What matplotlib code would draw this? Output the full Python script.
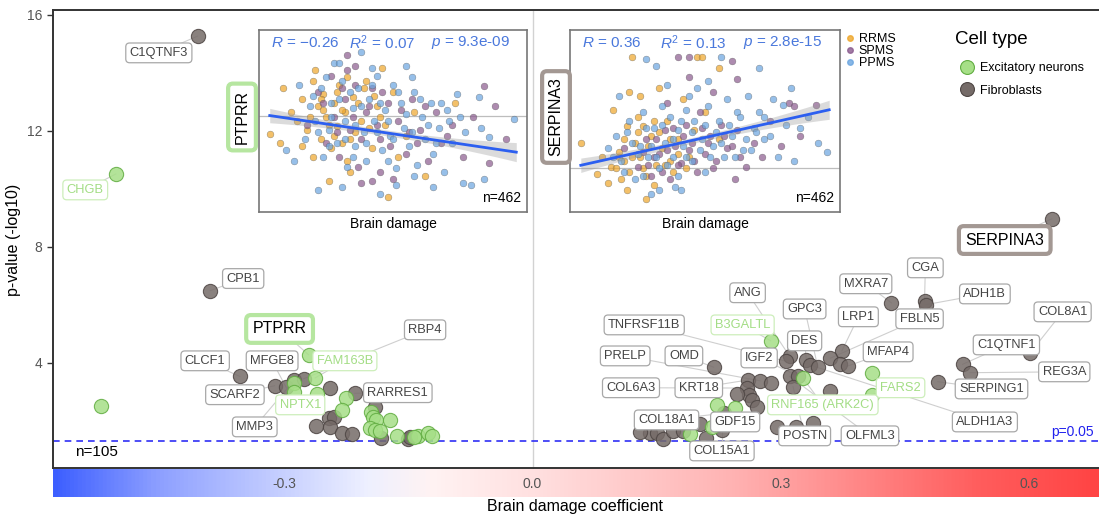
import numpy as np
import matplotlib
matplotlib.use("Agg")
import matplotlib.pyplot as plt
from matplotlib.colors import LinearSegmentedColormap
from matplotlib.lines import Line2D

plt.rcParams['font.family'] = ['Liberation Sans', 'DejaVu Sans']
plt.rcParams['mathtext.fontset'] = 'custom'
plt.rcParams['mathtext.rm'] = 'Liberation Sans'
plt.rcParams['mathtext.it'] = 'Liberation Sans:italic'

# ---------------- DATA ----------------
# main volcano-like panel: brain damage coefficient vs p-value (-log10)
fib_coef = [-0.405, -0.390, -0.354, -0.312, -0.298, -0.288, -0.277, -0.245, -0.215, -0.262,
            -0.246, -0.240, -0.245, -0.230, -0.218, -0.191, -0.183, -0.151, -0.148,
            0.628, 0.434, 0.474, 0.476, 0.602, 0.520, 0.529, 0.490, 0.374, 0.360,
            0.372, 0.382, 0.311, 0.307, 0.331, 0.335, 0.345, 0.311, 0.321, 0.315,
            0.360, 0.219, 0.261, 0.275, 0.288, 0.259, 0.262, 0.247, 0.265, 0.271,
            0.231, 0.235, 0.223, 0.229, 0.210, 0.142, 0.150, 0.158, 0.170, 0.182,
            0.295, 0.319, 0.339, 0.130, 0.202]
fib_pval = [15.27, 6.48, 3.52, 3.20, 3.14, 3.40, 3.44, 3.12, 2.94, 1.82,
            2.08, 2.12, 1.77, 1.58, 1.53, 2.48, 1.39, 1.36, 1.44,
            8.96, 6.06, 6.12, 6.00, 4.34, 3.94, 3.65, 3.34, 4.40, 4.15,
            3.96, 3.89, 4.21, 4.04, 4.09, 3.92, 3.84, 3.52, 3.54, 3.17,
            3.03, 3.84, 3.40, 3.37, 3.29, 3.12, 2.89, 2.92, 2.71, 2.48,
            2.25, 1.96, 1.85, 1.68, 1.39, 1.58, 1.58, 1.36, 1.62, 1.62,
            1.79, 1.79, 1.93, 1.61, 1.88]
fib_gene = ["C1QTNF3", "CPB1", "CLCF1", "SCARF2", "MFGE8", "MMP3", "RBP4", "", "RARRES1", "",
            "", "", "", "", "", "", "", "", "",
            "SERPINA3", "MXRA7", "CGA", "ADH1B", "COL8A1", "C1QTNF1", "REG3A", "SERPING1", "LRP1", "FBLN5",
            "", "MFAP4", "ANG", "TNFRSF11B", "DES", "ALDH1A3", "GPC3", "OLFML3", "IGF2", "POSTN",
            "", "OMD", "KRT18", "PRELP", "", "COL6A3", "", "", "", "",
            "COL18A1", "GDF15", "", "COL15A1", "", "", "", "", "", "",
            "", "", "", "", ""]

exc_coef = [-0.504, -0.522, -0.271, -0.263, -0.288, -0.289, -0.261, -0.296, -0.226, -0.231,
            -0.195, -0.193, -0.189, -0.173, -0.197, -0.191, -0.185, -0.164, -0.138, -0.126,
            -0.122, -0.144,
            0.288, 0.327, 0.223, 0.245, 0.190, 0.217, 0.410, 0.410]
exc_pval = [10.51, 2.51, 4.27, 3.47, 3.29, 3.00, 2.92, 2.54, 2.76, 2.37,
            2.31, 2.12, 2.02, 2.00, 1.74, 1.68, 1.62, 1.45, 1.45, 1.58,
            1.47, 1.43,
            4.75, 3.46, 2.52, 2.43, 1.54, 1.79, 3.65, 2.89]
exc_gene = ["CHGB", "", "PTPRR", "FAM163B", "", "", "", "NPTX1", "", "",
            "", "", "", "", "", "", "", "", "", "",
            "", "",
            "B3GALTL", "RNF165 (ARK2C)", "", "", "", "", "", "FARS2"]

highlight_genes = ["PTPRR", "SERPINA3"]
n_genes = 105
p_threshold = 0.05
xticks_main = [-0.3, 0.0, 0.3, 0.6]
yticks_main = [4, 8, 12, 16]

# inset 1: PTPRR expression vs brain damage (relative units)
pt_rr_x = [4, 8, 9, 12, 14, 16, 18, 20, 20, 22, 23, 24, 25, 26, 27, 28, 29, 30, 31, 32, 33, 35, 36, 38,
           40, 42, 44, 46, 47, 48, 50, 52, 55, 58, 62, 73, 16, 21, 34,
           19, 23, 26, 29, 31, 34, 37, 39, 41, 43, 28, 24, 33, 45]
pt_rr_y = [43, 38, 68, 55, 50, 62, 45, 72, 30, 58, 40, 65, 52, 17, 35, 60, 47, 70, 38, 55, 28, 63, 44, 50,
           72, 35, 58, 79, 48, 8, 66, 30, 42, 55, 20, 60, 36, 78, 22,
           52, 62, 48, 66, 56, 40, 60, 68, 46, 64, 42, 56, 74, 52]
pt_sp_x = [33, 36, 33, 18, 22, 25, 28, 30, 32, 34, 37, 38, 40, 42, 42, 45, 48, 50, 52, 55, 57, 60, 63, 66,
           68, 72, 76, 80, 84, 86, 92, 88, 45, 27,
           24, 29, 31, 35, 38, 41, 44, 46, 49, 53, 56, 59, 62, 70, 36]
pt_sp_y = [86, 80, 78, 48, 66, 38, 52, 30, 62, 45, 25, 16, 55, 17, 68, 40, 60, 18, 50, 32, 62, 45, 28, 55,
           38, 48, 30, 52, 69, 27, 40, 58, 22, 75,
           60, 44, 68, 52, 40, 58, 48, 66, 36, 56, 44, 38, 58, 42, 70]
pt_pp_x = [28, 30, 42, 57, 82, 95, 83, 86, 84, 76, 79, 22, 31, 51, 65, 15, 17, 19, 21, 23, 24, 26, 27, 29,
           31, 32, 33, 35, 36, 37, 39, 40, 41, 43, 44, 46, 47, 49, 50, 51, 53, 54, 56, 58, 59, 61, 62, 64,
           65, 67, 69, 70, 72, 74, 77, 13, 10, 38, 55, 45,
           20, 22, 25, 27, 30, 32, 34, 36, 38, 40, 42, 44, 45, 48, 50, 52, 55, 57, 60, 63, 66, 68, 71, 75,
           26, 35, 48, 58]
pt_pp_y = [82, 82, 79, 74, 63, 51, 46, 41, 18, 16, 15, 12, 14, 15, 14, 70, 40, 58, 50, 68, 30, 45, 60, 38,
           72, 50, 25, 57, 36, 68, 44, 28, 62, 50, 75, 34, 56, 42, 70, 24, 60, 46, 36, 66, 26, 52, 40, 60,
           32, 46, 22, 56, 38, 65, 44, 28, 34, 88, 80, 10,
           64, 44, 74, 52, 62, 40, 66, 48, 58, 38, 70, 44, 60, 50, 40, 66, 54, 44, 62, 48, 38, 60, 50, 52,
           36, 30, 28, 20]
pt_fit = (-0.2186, 53.87)      # slope, intercept of regression line
pt_mean = 53
pt_stats = ["$R$ = \u22120.26", "$R^2$ = 0.07", "$p$ = 9.3e-09"]

# inset 2: SERPINA3 expression vs brain damage (relative units)
se_rr_x = [4, 23, 47, 49, 55, 22, 26, 16, 25, 21, 27, 10, 14, 21, 28, 12, 15, 18, 20, 22, 24, 26, 28, 30,
           32, 34, 36, 38, 40, 42, 44, 46, 50, 33, 19, 31, 37, 55,
           17, 20, 23, 25, 27, 29, 31, 33, 35, 37, 40, 43, 18]
se_rr_y = [38, 85, 85, 85, 79, 66, 64, 56, 52, 47, 47, 21, 16, 12, 7, 30, 25, 33, 28, 22, 38, 30, 20, 42,
           26, 35, 50, 22, 40, 62, 30, 45, 55, 68, 18, 15, 28, 40,
           24, 40, 30, 44, 24, 36, 50, 44, 26, 40, 32, 24, 30]
se_sp_x = [40, 44, 60, 44, 62, 81, 83, 91, 85, 61, 71, 20, 25, 28, 30, 33, 35, 37, 39, 41, 43, 45, 47, 48,
           50, 52, 54, 56, 58, 62, 65, 68, 74, 78, 36, 53,
           27, 29, 32, 34, 36, 38, 40, 42, 44, 46, 49, 51, 53, 57, 60, 63, 31]
se_sp_y = [85, 85, 83, 74, 73, 60, 58, 59, 42, 18, 30, 35, 25, 40, 20, 32, 45, 18, 36, 27, 48, 38, 22, 55,
           32, 42, 28, 48, 35, 45, 25, 38, 50, 36, 60, 66,
           33, 26, 40, 22, 34, 46, 26, 42, 34, 28, 46, 38, 24, 42, 36, 30, 30]
se_pp_x = [28, 32, 56, 70, 51, 82, 79, 92, 95, 85, 33, 41, 83, 14, 17, 19, 22, 24, 26, 27, 29, 31, 33, 34,
           35, 37, 38, 40, 40, 42, 43, 45, 46, 47, 49, 50, 51, 53, 55, 57, 58, 60, 62, 64, 66, 68, 70, 72,
           75, 77, 80, 88, 18, 36, 44, 30,
           16, 20, 21, 23, 25, 28, 30, 32, 34, 36, 38, 41, 43, 45, 48, 50, 52, 54, 56, 59, 61, 63, 65, 67,
           69, 72, 74, 27, 39]
se_pp_y = [84, 80, 85, 79, 72, 68, 59, 38, 33, 46, 12, 12, 28, 35, 42, 28, 50, 18, 36, 55, 30, 46, 24, 58,
           38, 52, 30, 45, 20, 36, 56, 28, 50, 68, 40, 22, 58, 36, 50, 30, 62, 42, 55, 34, 64, 46, 55, 40,
           62, 30, 48, 52, 64, 70, 64, 10,
           30, 22, 44, 38, 32, 46, 36, 30, 48, 26, 40, 50, 30, 44, 34, 48, 30, 44, 38, 48, 30, 52, 40, 34,
           44, 52, 42, 20, 14]
se_fit = (0.3315, 24.34)
se_mean = 24
se_stats = ["$R$ = 0.36", "$R^2$ = 0.13", "$p$ = 2.8e-15"]
n_samples = 462

# ---------------- LAYOUT / STYLE ----------------
W, H = 1099, 516
def fx(px): return px / W
def fy(py): return 1 - py / H

XLIM = (-0.58, 0.685)
YLIM = (0.36, 16.17)

label_pos = {
    "C1QTNF3": (-0.452, 14.69), "CHGB": (-0.541, 9.96), "CPB1": (-0.350, 6.90),
    "PTPRR": (-0.306, 5.16), "RBP4": (-0.130, 5.13), "CLCF1": (-0.396, 4.06),
    "MFGE8": (-0.315, 4.06), "FAM163B": (-0.227, 4.06), "SCARF2": (-0.360, 2.89),
    "RARRES1": (-0.163, 2.96), "NPTX1": (-0.281, 2.54), "MMP3": (-0.336, 1.78),
    "ANG": (0.260, 6.41), "GPC3": (0.329, 5.85), "MXRA7": (0.403, 6.72), "CGA": (0.475, 7.27),
    "ADH1B": (0.547, 6.37), "COL8A1": (0.641, 5.75), "LRP1": (0.394, 5.58), "FBLN5": (0.468, 5.51),
    "TNFRSF11B": (0.135, 5.30), "B3GALTL": (0.254, 5.30), "DES": (0.329, 4.75),
    "C1QTNF1": (0.573, 4.61), "MFAP4": (0.430, 4.37), "PRELP": (0.112, 4.23), "OMD": (0.183, 4.23),
    "IGF2": (0.274, 4.16), "REG3A": (0.643, 3.68), "COL6A3": (0.119, 3.13), "KRT18": (0.201, 3.13),
    "FARS2": (0.445, 3.13), "SERPING1": (0.555, 3.09), "RNF165 (ARK2C)": (0.351, 2.54),
    "ALDH1A3": (0.547, 1.95), "COL18A1": (0.162, 2.02), "GDF15": (0.245, 1.95),
    "POSTN": (0.329, 1.47), "OLFML3": (0.408, 1.47), "COL15A1": (0.229, 0.95),
    "SERPINA3": (0.571, 8.23),
}

GREEN_FACE, GREEN_EDGE = "#a6df87", "#62ad42"
GRAY_FACE, GRAY_EDGE = "#756b68", "#4e4644"
C_RR, C_SP, C_PP = "#eea62a", "#8a5a8e", "#6aa5e0"
STAT_BLUE = "#4a78dc"

fig = plt.figure(figsize=(W / 100, H / 100), dpi=100)

ax = fig.add_axes([fx(53), fy(468), fx(1099) - fx(53), fy(10) - fy(468)])
ax.set_xlim(*XLIM)
ax.set_ylim(*YLIM)
for s in ["top", "left", "bottom"]:
    ax.spines[s].set_color("#333333")
    ax.spines[s].set_linewidth(1.4)
ax.spines["right"].set_visible(False)
ax.set_xticks(xticks_main)
ax.set_yticks(yticks_main)
ax.tick_params(axis="x", labelbottom=False, length=4, width=1, color="#333333")
ax.tick_params(axis="y", length=4, width=1, color="#333333", labelsize=10, labelcolor="#555555")

ax.axvline(0, color="#d2d2d2", lw=1, zorder=0)
ax.axhline(-np.log10(p_threshold), color="#2f2ff5", lw=1.2, ls=(0, (4, 3)), zorder=1)
ax.text(0.679, -np.log10(p_threshold) + 0.3, "p=0.05", color="#2222ee", fontsize=10,
        ha="right", va="center")
ax.text(-0.553, 0.92, f"n={n_genes}", fontsize=11, ha="left", va="center")

# connector segments
def draw_segments(coefs, pvals, genes):
    for c, p, g in zip(coefs, pvals, genes):
        if g and g in label_pos:
            lx, ly = label_pos[g]
            ax.plot([c, lx], [p, ly], color="#cfcfcf", lw=0.8, zorder=2)

draw_segments(fib_coef, fib_pval, fib_gene)
draw_segments(exc_coef, exc_pval, exc_gene)

ax.scatter(fib_coef, fib_pval, s=105, c=GRAY_FACE, edgecolors=GRAY_EDGE, linewidths=0.8,
           alpha=0.85, zorder=3)
ax.scatter(exc_coef, exc_pval, s=105, c=GREEN_FACE, edgecolors=GREEN_EDGE, linewidths=0.8,
           alpha=0.85, zorder=4)

def draw_labels(genes, green):
    for g in genes:
        if not g:
            continue
        lx, ly = label_pos[g]
        if g in highlight_genes:
            ec = "#b6e6a0" if green else "#a39893"
            ax.text(lx, ly, g, fontsize=11.5, color="black", ha="center", va="center", zorder=6,
                    bbox=dict(boxstyle="round,pad=0.4,rounding_size=0.3", fc="white", ec=ec, lw=3))
        else:
            tc = "#a3dd85" if green else "#444444"
            ec = "#cdeebb" if green else "#a8a8a8"
            ax.text(lx, ly, g, fontsize=9.3, color=tc, ha="center", va="center", zorder=5,
                    bbox=dict(boxstyle="round,pad=0.3,rounding_size=0.3", fc="white", ec=ec, lw=0.9))

draw_labels(fib_gene, False)
draw_labels(exc_gene, True)

fig.text(fx(14), fy(240), "p-value (-log10)", rotation=90, fontsize=11.5, ha="center", va="center")

# gradient bar under x axis
cax = fig.add_axes([fx(53), fy(497), fx(1099) - fx(53), fy(469) - fy(497)])
cmap = LinearSegmentedColormap.from_list("bd", [
    (0.0, "#3d5fff"), (0.10, "#8ea0ff"), (0.22, "#c8d1ff"), (0.30, "#eef0ff"),
    (0.36, "#fff3f3"), (0.459, "#ffe0e0"), (0.65, "#ffb3b3"), (0.89, "#ff5c5c"), (1.0, "#ff4444")])
grad = np.linspace(XLIM[0], XLIM[1], 800).reshape(1, -1)
cax.imshow(grad, aspect="auto", cmap=cmap, extent=(XLIM[0], XLIM[1], 0, 1),
           vmin=XLIM[0], vmax=XLIM[1])
cax.set_xlim(*XLIM)
cax.set_ylim(0, 1)
cax.axis("off")
for t in xticks_main:
    cax.text(t, 0.45, f"{t:.1f}", transform=cax.get_xaxis_transform(), fontsize=10,
             color="#555555", ha="center", va="center")
fig.text(fx(575), fy(506), "Brain damage coefficient", fontsize=11.5, ha="center", va="center")

# insets
def draw_inset(box, rr, sp, pp, fit, mean, stats, gene, green, label_x):
    l, t, r, b = box
    ia = fig.add_axes([fx(l), fy(b), fx(r) - fx(l), fy(t) - fy(b)])
    ia.set_xlim(0, 100)
    ia.set_ylim(0, 100)
    ia.set_xticks([])
    ia.set_yticks([])
    for s in ia.spines.values():
        s.set_color("#777777")
        s.set_linewidth(1.2)
    ia.axhline(mean, color="#bdbdbd", lw=0.9, zorder=1)
    for (xs, ys), col in zip([rr, sp, pp], [C_RR, C_SP, C_PP]):
        ia.scatter(xs, ys, s=24, c=col, edgecolors="#555555", linewidths=0.3, alpha=0.7, zorder=2)
    xx = np.linspace(4, 96, 50)
    yy = fit[0] * xx + fit[1]
    half = 1.6 + 3.5 * ((xx - 45) / 50) ** 2
    ia.fill_between(xx, yy - half, yy + half, color="#9a9a9a", alpha=0.35, lw=0, zorder=3)
    ia.plot(xx, yy, color="#2c5ff0", lw=2, zorder=4)
    for xpos, s in zip([4.5, 33.5, 64], stats):
        ia.text(xpos, 93, s, color=STAT_BLUE, fontsize=11, ha="left", va="center", zorder=5)
    ia.text(98, 4, f"n={n_samples}", fontsize=10, ha="right", va="bottom", zorder=5)
    fig.text(fx((l + r) / 2), fy(b + 12), "Brain damage", fontsize=10, ha="center", va="center")
    ec = "#b6e6a0" if green else "#a39893"
    fig.text(fx(label_x), fy((t + b) / 2 - 4), gene, rotation=90, fontsize=11.5, ha="center",
             va="center", bbox=dict(boxstyle="round,pad=0.4,rounding_size=0.3", fc="white", ec=ec, lw=3))

draw_inset((259, 30, 527, 212), (pt_rr_x, pt_rr_y), (pt_sp_x, pt_sp_y), (pt_pp_x, pt_pp_y),
           pt_fit, pt_mean, pt_stats, "PTPRR", True, 242)
draw_inset((570, 30, 840, 212), (se_rr_x, se_rr_y), (se_sp_x, se_sp_y), (se_pp_x, se_pp_y),
           se_fit, se_mean, se_stats, "SERPINA3", False, 556)

# inset group legend
grp_handles = [Line2D([], [], marker="o", ls="", ms=4, mfc=c, mec=c, alpha=0.8)
               for c in [C_RR, C_SP, C_PP]]
fig.legend(grp_handles, ["RRMS", "SPMS", "PPMS"], loc="upper left",
           bbox_to_anchor=(fx(846), fy(33)), frameon=False, fontsize=9, labelspacing=0.0,
           handlelength=0.6, handletextpad=0.4, borderpad=0, borderaxespad=0)

# cell type legend
fig.text(fx(955), fy(40), "Cell type", fontsize=13.5, ha="left", va="center")
ct_handles = [Line2D([], [], marker="o", ls="", ms=10, mfc=GREEN_FACE, mec=GREEN_EDGE, mew=0.8),
              Line2D([], [], marker="o", ls="", ms=10, mfc=GRAY_FACE, mec=GRAY_EDGE, mew=0.8)]
fig.legend(ct_handles, ["Excitatory neurons", "Fibroblasts"], loc="upper left",
           bbox_to_anchor=(fx(961), fy(62)), frameon=False, fontsize=9, labelspacing=0.85,
           handlelength=1.0, handletextpad=0.5, borderpad=0, borderaxespad=0)

fig.savefig("out.png", dpi=100)
